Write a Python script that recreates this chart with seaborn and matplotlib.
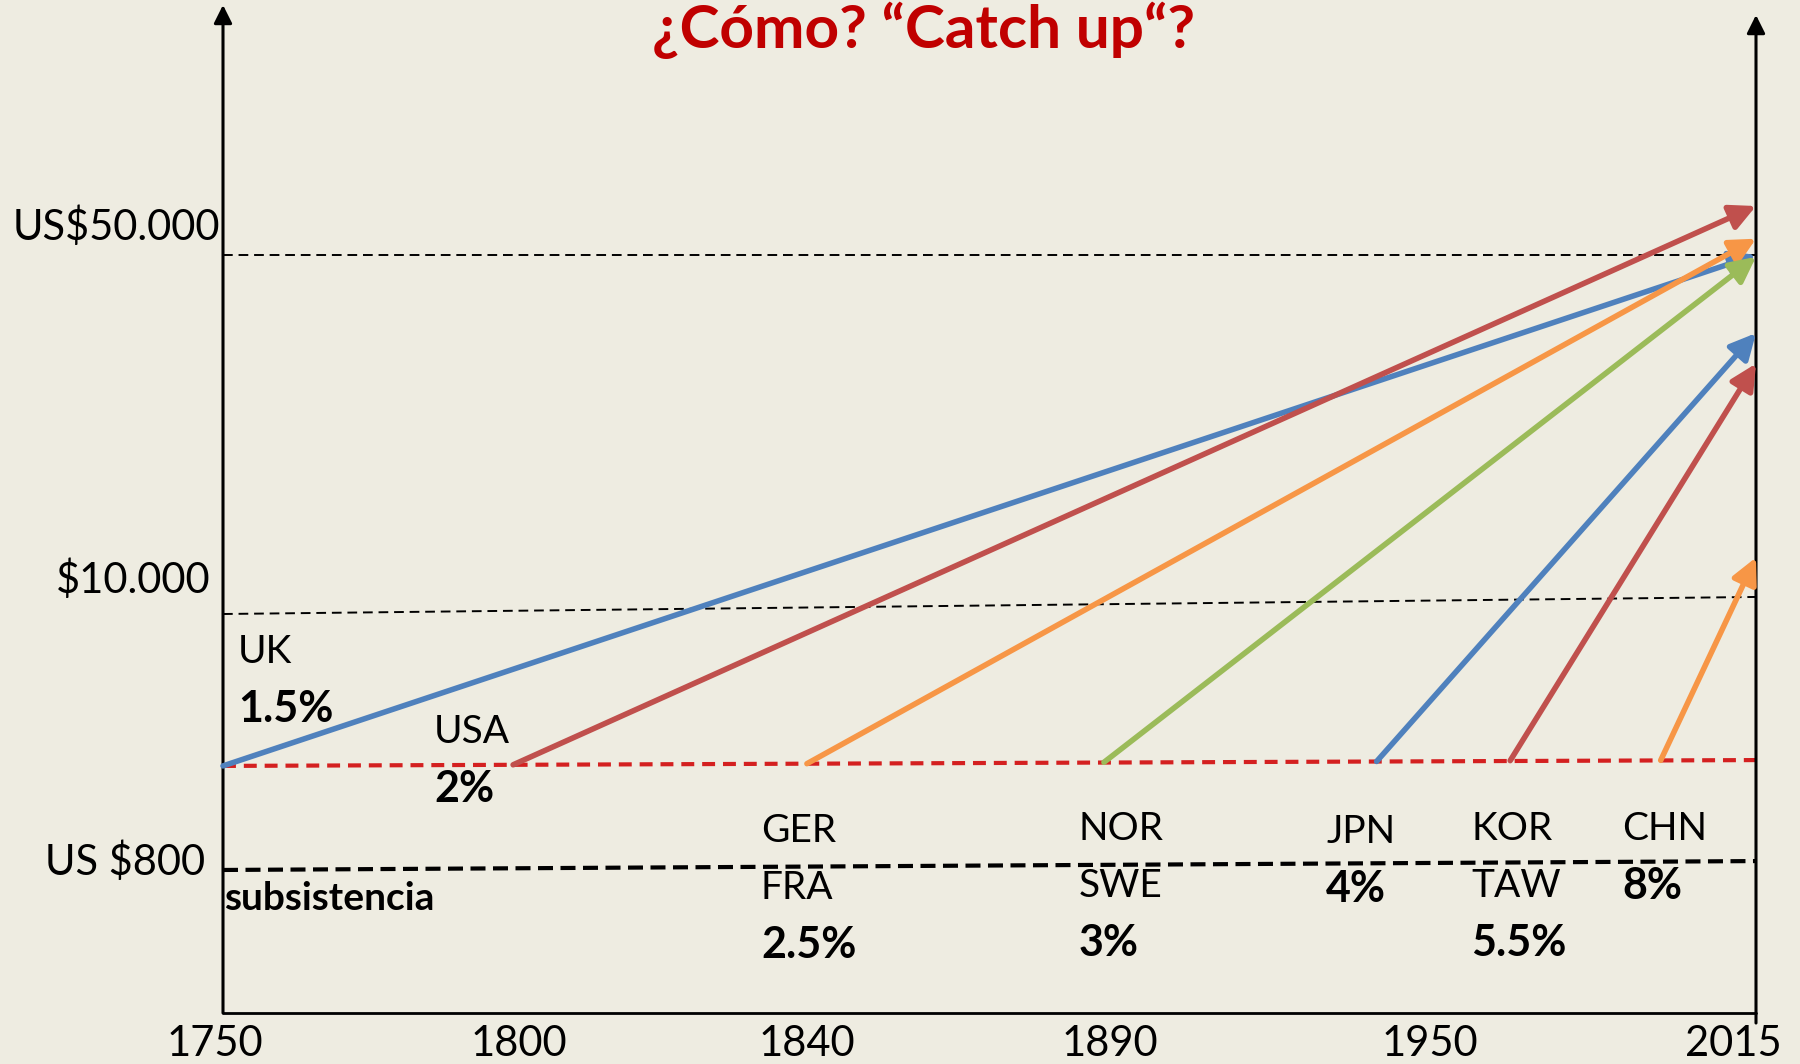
import numpy as np
import matplotlib.pyplot as plt
import seaborn as sns
from matplotlib.transforms import ScaledTranslation

# x axis years shown under the chart
tick_years = [1750, 1800, 1840, 1890, 1950, 2015]

# income levels marked on the y axis
income_levels = [50000, 10000, 800]
income_labels = ["US$50.000", "$10.000", "US $800"]

# one arrow per country group: from take-off to 2015
countries = ["UK", "USA", "GER\nFRA", "NOR\nSWE", "JPN", "KOR\nTAW", "CHN"]
growth = ["1.5%", "2%", "2.5%", "3%", "4%", "5.5%", "8%"]
start_year = [1750, 1799, 1840, 1889, 1940, 1966, 1996]
start_income = [4540, 4580, 4620, 4670, 4700, 4730, 4740]
end_year = [2015, 2015, 2015, 2015, 2015, 2015, 2015]
end_income = [50000, 56000, 52000, 49800, 41300, 37900, 16300]

# dashed reference lines, value at 1750 and at 2015
line_years = [1750, 2015]
line_50k = [50000, 50000]
line_10k = [10000, 11900]
line_800 = [800, 1120]
line_start = [4540, 4750]

BLUE, RED, ORANGE, GREEN = "#4F81BD", "#C0504D", "#F79646", "#9BBB59"
arrow_colors = [BLUE, RED, ORANGE, GREEN, BLUE, RED, ORANGE]
BG = "#EEECE1"

# the picture is a schematic: uneven spacing between the marked years/levels
x_anchor = [1750, 1800, 1840, 1890, 1950, 2015]
x_place = [0, 0.1931, 0.3809, 0.5786, 0.7873, 1.0]
y_anchor = [0, 800, 10000, 50000, 80000]
y_place = [0, 0.1426, 0.3978, 0.7557, 1.0]

sns.set_theme(style="white", rc={"axes.facecolor": BG, "figure.facecolor": BG,
                                 "text.color": "black", "xtick.color": "black"})
plt.rcParams["font.family"] = ["Lato", "DejaVu Sans"]

fig = plt.figure(figsize=(18, 10.64), dpi=100)
L, R, B, T = 223, 1756, 1013, 10
ax = fig.add_axes([L / 1800, 1 - B / 1064, (R - L) / 1800, (B - T) / 1064])
ax.set_xscale("function", functions=(lambda v: np.interp(v, x_anchor, x_place),
                                     lambda p: np.interp(p, x_place, x_anchor)))
ax.set_yscale("function", functions=(lambda v: np.interp(v, y_anchor, y_place),
                                     lambda p: np.interp(p, y_place, y_anchor)))
ax.set_xlim(1750, 2015)
ax.set_ylim(0, 80000)
sns.despine(ax=ax, left=True, bottom=True)
ax.set_yticks([])


def frac(x, y):
    # pixel position in the picture -> axes fraction
    return (x - L) / (R - L), (B - y) / (B - T)


# reference lines
ax.plot(line_years, line_50k, color="black", lw=1.4, ls=(0, (5, 3)), clip_on=False)
ax.plot(line_years, line_10k, color="black", lw=1.4, ls=(0, (5, 3)), clip_on=False)
ax.plot(line_years, line_800, color="black", lw=3, ls=(0, (3.6, 1.8)), clip_on=False)
ax.plot(line_years, line_start, color="#D42020", lw=3, ls=(0, (3.1, 1.9)), clip_on=False, zorder=3)

# growth arrows
for i in range(len(countries)):
    ax.annotate("", xy=(end_year[i], end_income[i]), xytext=(start_year[i], start_income[i]),
                arrowprops=dict(arrowstyle="-|>,head_length=0.5,head_width=0.25",
                                mutation_scale=31, lw=4, color=arrow_colors[i],
                                shrinkA=0, shrinkB=0), zorder=4)

# axes drawn as arrows
axis_kw = dict(arrowstyle="-|>,head_length=0.5,head_width=0.25", mutation_scale=22,
               lw=2.2, color="black", shrinkA=0, shrinkB=0)
ax.annotate("", xy=(0, 1.005), xytext=(0, 0), xycoords="axes fraction",
            textcoords="axes fraction", arrowprops=axis_kw, annotation_clip=False)
ax.annotate("", xy=(1, 0.995), xytext=(1, -0.01), xycoords="axes fraction",
            textcoords="axes fraction", arrowprops=axis_kw, annotation_clip=False)
ax.plot([0, 1], [0, 0], transform=ax.transAxes, color="black", lw=2, clip_on=False)

# y labels
y_offsets = [(-3, 28), (-12, 34), (-18, 8)]
for val, lab, (dx, dy) in zip(income_levels, income_labels, y_offsets):
    ax.annotate(lab, xy=(0, val), xycoords=ax.get_yaxis_transform(), xytext=(dx, dy),
                textcoords="offset pixels", ha="right", va="center", fontsize=30,
                color="black", annotation_clip=False)

ax.text(*frac(224, 898), "subsistencia", fontsize=28, fontweight="bold",
        ha="left", va="center", transform=ax.transAxes)

# country labels
label_xy = [(238, 652), (434, 732), (761, 831), (1079, 829), (1326, 832), (1471, 829), (1622, 829)]
step = 57
for name, rate, (px, py) in zip(countries, growth, label_xy):
    lines = name.split("\n")
    for j, line in enumerate(lines):
        ax.text(*frac(px, py + j * step), line, fontsize=28, ha="left", va="center",
                transform=ax.transAxes)
    ax.text(*frac(px, py + len(lines) * step), rate, fontsize=31, fontweight="bold",
            ha="left", va="center", transform=ax.transAxes)

# x ticks
ax.set_xticks(tick_years)
ax.set_xticklabels([str(y) for y in tick_years], fontsize=30)
ax.tick_params(axis="x", length=0, pad=9)
ax.xaxis.set_minor_locator(plt.NullLocator())
for lab, dx in zip(ax.get_xticklabels(), [-8, 0, 0, 0, 0, -23]):
    lab.set_transform(lab.get_transform() + ScaledTranslation(dx / 100, 0, fig.dpi_scale_trans))

fig.text(924 / 1800, 1 - 30 / 1064, "¿Cómo? “Catch up“?", fontsize=43.5, fontweight="bold",
         color="#C00000", ha="center", va="center")

fig.savefig("out.png", dpi=100, facecolor=BG)
